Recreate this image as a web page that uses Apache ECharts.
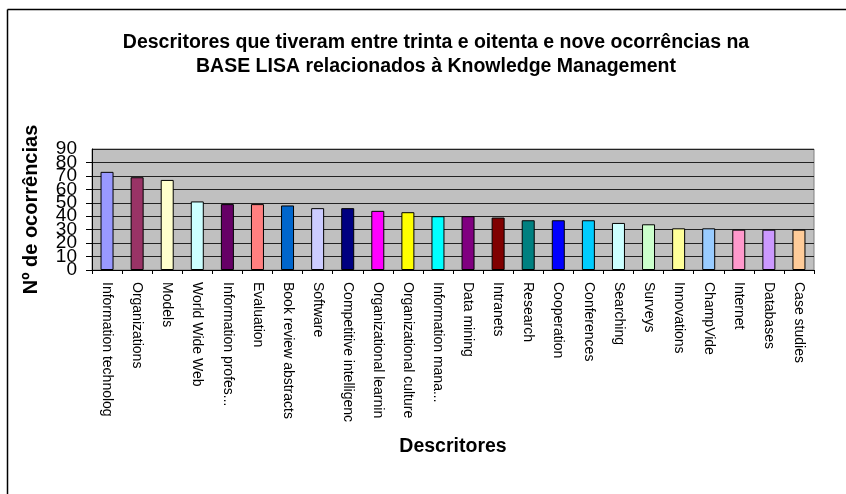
<!DOCTYPE html>
<html>
<head>
<meta charset="utf-8">
<script src="https://cdn.jsdelivr.net/npm/echarts@6/dist/echarts.min.js"></script>
<style>
  html, body { margin: 0; padding: 0; background: #fff; }
  #container { width: 846px; height: 494px; }
</style>
</head>
<body>
<div id="container"></div>
<script>
// categorias e valores
var descritores = [
  'Information technolog', 'Organizations', 'Models', 'World Wide Web',
  'Information profes...', 'Evaluation', 'Book review abstracts', 'Software',
  'Competitive intelligenc', 'Organizational learnin', 'Organizational culture',
  'Information mana...', 'Data mining', 'Intranets', 'Research', 'Cooperation',
  'Conferences', 'Searching', 'Surveys', 'Innovations', 'ChampVide',
  'Internet', 'Databases', 'Case studies'
];
var ocorrencias = [73, 69, 67, 51, 49, 49, 48, 46, 46, 44, 43, 40, 40, 39, 37, 37, 37, 35, 34, 31, 31, 30, 30, 30];

// paleta padrão do Excel
var cores = [
  '#9999FF', '#993366', '#FFFFCC', '#CCFFFF', '#660066', '#FF8080', '#0066CC', '#CCCCFF',
  '#000080', '#FF00FF', '#FFFF00', '#00FFFF', '#800080', '#800000', '#008080', '#0000FF',
  '#00CCFF', '#CCFFFF', '#CCFFCC', '#FFFF99', '#99CCFF', '#FF99CC', '#CC99FF', '#FFCC99'
];

var dom = document.getElementById('container');
var myChart = echarts.init(dom, null, { renderer: 'canvas' });

var fonteY = { margin: 15, fontFamily: 'Liberation Sans', fontSize: 19, color: '#000' };

var option = {
  backgroundColor: '#fff',
  animation: false,
  title: {
    text: 'Descritores que tiveram entre trinta e oitenta e nove ocorrências na\nBASE LISA relacionados à Knowledge Management',
    left: 431,
    top: 26,
    textAlign: 'center',
    textStyle: {
      fontFamily: 'Liberation Sans',
      fontSize: 19.5,
      fontWeight: 'bold',
      color: '#000',
      lineHeight: 24
    }
  },
  graphic: [
    { type: 'line', shape: { x1: 7.5, y1: 9.5, x2: 7.5, y2: 494 }, style: { stroke: '#000', lineWidth: 1.5 } },
    { type: 'line', shape: { x1: 7.5, y1: 9.5, x2: 846, y2: 9.5 }, style: { stroke: '#000', lineWidth: 1.5 } }
  ],
  grid: {
    left: 92,
    right: 32,
    top: 149,
    bottom: 224,
    show: true,
    backgroundColor: '#C0C0C0',
    borderColor: '#808080',
    borderWidth: 1
  },
  xAxis: {
    type: 'category',
    data: descritores,
    name: 'Descritores',
    nameLocation: 'middle',
    nameGap: 167,
    nameTextStyle: { fontFamily: 'Liberation Sans', fontSize: 19.5, fontWeight: 'bold', color: '#000' },
    axisLine: { lineStyle: { color: '#000', width: 1 } },
    axisTick: { show: true, length: 4, lineStyle: { color: '#000' } },
    axisLabel: {
      rotate: -90,
      interval: 0,
      margin: 12,
      fontFamily: 'Liberation Sans',
      fontSize: 14,
      color: '#000'
    }
  },
  // os rótulos do eixo Y se sobrepõem no original; divididos em dois eixos (pares / ímpares)
  yAxis: [{
    type: 'value',
    min: 0,
    max: 90,
    interval: 10,
    name: 'Nº de ocorrências',
    nameLocation: 'middle',
    nameGap: 51,
    nameTextStyle: { fontFamily: 'Liberation Sans', fontSize: 20, fontWeight: 'bold', color: '#000' },
    axisLine: { show: true, lineStyle: { color: '#000', width: 1 } },
    axisTick: { show: true, length: 6, lineStyle: { color: '#000' } },
    axisLabel: Object.assign({
      showMinLabel: true,
      showMaxLabel: false,
      formatter: function (v) { return v % 20 === 0 ? String(v) : ''; }
    }, fonteY),
    splitLine: { show: true, lineStyle: { color: '#222', width: 1 } }
  }, {
    type: 'value',
    min: 0,
    max: 90,
    interval: 10,
    position: 'left',
    offset: 0,
    axisLine: { show: false },
    axisTick: { show: false },
    splitLine: { show: false },
    axisLabel: Object.assign({
      showMinLabel: false,
      showMaxLabel: true,
      formatter: function (v) { return v % 20 === 10 ? String(v) : ''; }
    }, fonteY)
  }],
  series: [{
    type: 'bar',
    data: ocorrencias,
    barWidth: 13,
    itemStyle: {
      color: function (p) { return cores[p.dataIndex]; },
      borderColor: '#000',
      borderWidth: 1
    }
  }]
};

myChart.setOption(option);
window.addEventListener('resize', myChart.resize);
</script>
</body>
</html>
